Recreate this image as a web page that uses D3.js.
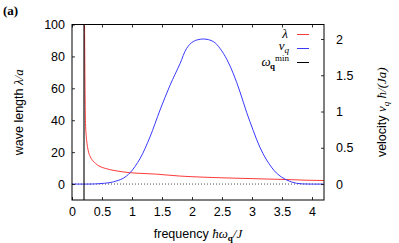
<!DOCTYPE html>
<html>
<head>
  <meta charset="utf-8">
  <title>wave length and velocity vs frequency</title>
  <style>
    body { margin: 0; background: #fff; }
    .sans { font-family: "Liberation Sans", Arial, sans-serif; font-size: 12.5px; }
    .math { font-family: "Liberation Serif", "Times New Roman", serif; font-style: italic; }
  </style>
</head>
<body>
  <script src="https://cdn.jsdelivr.net/npm/d3@7"></script>
  <script>
    // data
    var omegaMin = 0.2;

    var lambdaOmega = [0.205, 0.21, 0.215, 0.22, 0.225, 0.24, 0.25, 0.27, 0.305, 0.35, 0.39, 0.45, 0.555, 0.7, 0.833, 0.967, 1.2, 1.41, 1.6, 1.8, 2.0, 2.2, 2.5, 2.8, 3.2, 3.6, 3.9, 4.2];
    var lambdaVals  = [115, 95, 70, 50, 38, 29, 25.5, 21, 17.1, 14.5, 13, 11.3, 9.8, 8.5, 7.7, 7.1, 6.6, 6.2, 5.6, 5.0, 4.6, 4.3, 3.9, 3.6, 3.2, 2.8, 2.4, 2.2];

    var vOmega = [0, 0.3, 0.45, 0.633, 0.75, 0.855, 0.967, 1.133, 1.3, 1.467, 1.633, 1.8, 1.91, 2.02, 2.19, 2.355, 2.467, 2.58, 2.69, 2.8, 2.91, 3.02, 3.13, 3.245, 3.41, 3.58, 3.745, 3.95, 4.2];
    var vVals   = [0, 0, 0.005, 0.02, 0.045, 0.08, 0.155, 0.35, 0.65, 1.02, 1.36, 1.66, 1.87, 1.965, 2.0, 1.965, 1.87, 1.72, 1.52, 1.27, 0.99, 0.74, 0.51, 0.33, 0.15, 0.055, 0.01, 0, 0];

    var xTicks = [0, 0.5, 1, 1.5, 2, 2.5, 3, 3.5, 4];
    var yTicks = [0, 20, 40, 60, 80, 100];
    var y2Ticks = [0, 0.5, 1, 1.5, 2];

    var w = 399, h = 243;
    var pLeft = 72, pRight = 324, pTop = 24.5, pBottom = 200;

    var x = d3.scaleLinear().domain([0, 4.2]).range([pLeft, pRight]);
    var y = d3.scaleLinear().domain([-10, 100]).range([pBottom, pTop]);
    var y2 = d3.scaleLinear().domain([-0.22, 2.2]).range([pBottom, pTop]);

    var fmt = function(d) { return String(d); };

    var svg = d3.select("body").append("svg")
      .attr("width", w)
      .attr("height", h);

    svg.append("clipPath").attr("id", "clip")
      .append("rect")
      .attr("x", pLeft).attr("y", pTop)
      .attr("width", pRight - pLeft).attr("height", pBottom - pTop);

    var plot = svg.append("g").attr("clip-path", "url(#clip)");

    // zero line
    plot.append("line")
      .attr("x1", pLeft).attr("x2", pRight)
      .attr("y1", y(0)).attr("y2", y(0))
      .attr("stroke", "#222")
      .attr("stroke-width", 0.8)
      .attr("stroke-dasharray", "1,2");

    // lambda curve
    var lamData = lambdaOmega.map(function(o, i) { return [o, lambdaVals[i]]; });
    plot.append("path")
      .datum(lamData)
      .attr("fill", "none")
      .attr("stroke", "#ff3a3a")
      .attr("stroke-width", 1)
      .attr("d", d3.line()
        .x(function(d) { return x(d[0]); })
        .y(function(d) { return y(d[1]); })
        .curve(d3.curveMonotoneX));

    // velocity curve
    var vData = vOmega.map(function(o, i) { return [o, vVals[i]]; });
    plot.append("path")
      .datum(vData)
      .attr("fill", "none")
      .attr("stroke", "#3a3aff")
      .attr("stroke-width", 1)
      .attr("d", d3.line()
        .x(function(d) { return x(d[0]); })
        .y(function(d) { return y2(d[1]); })
        .curve(d3.curveCatmullRom.alpha(0.5)));

    // omega min line
    plot.append("line")
      .attr("x1", x(omegaMin)).attr("x2", x(omegaMin))
      .attr("y1", pTop).attr("y2", pBottom)
      .attr("stroke", "#000")
      .attr("stroke-width", 1.1);

    // axes, ticks point inward
    function styleAxis(g) {
      g.attr("font-family", null).attr("font-size", null);
      g.select(".domain").remove();
      g.selectAll(".tick line").attr("stroke", "#000").attr("stroke-width", 0.8);
      g.selectAll("text")
        .attr("fill", "#000")
        .style("font-family", "'Liberation Sans', Arial, sans-serif")
        .style("font-size", "12.5px");
    }

    svg.append("g")
      .attr("transform", "translate(0," + pBottom + ")")
      .call(d3.axisBottom(x).tickValues(xTicks).tickFormat(fmt).tickSizeInner(-3).tickSizeOuter(0).tickPadding(7))
      .call(styleAxis);

    svg.append("g")
      .attr("transform", "translate(0," + pTop + ")")
      .call(d3.axisTop(x).tickValues(xTicks).tickSizeInner(-3).tickSizeOuter(0).tickFormat(""))
      .call(styleAxis);

    svg.append("g")
      .attr("transform", "translate(" + pLeft + ",0)")
      .call(d3.axisLeft(y).tickValues(yTicks).tickFormat(fmt).tickSizeInner(-3).tickSizeOuter(0).tickPadding(7))
      .call(styleAxis);

    svg.append("g")
      .attr("transform", "translate(" + pRight + ",0)")
      .call(d3.axisRight(y2).tickValues(y2Ticks).tickFormat(fmt).tickSizeInner(-3).tickSizeOuter(0).tickPadding(12))
      .call(styleAxis);

    // frame
    svg.append("rect")
      .attr("x", pLeft).attr("y", pTop)
      .attr("width", pRight - pLeft).attr("height", pBottom - pTop)
      .attr("fill", "none")
      .attr("stroke", "#000")
      .attr("stroke-width", 1);

    // panel label
    svg.append("text")
      .attr("x", 3).attr("y", 15)
      .style("font-family", "'Liberation Serif', serif")
      .style("font-weight", "bold")
      .style("font-size", "13px")
      .text("(a)");

    // x label
    var xl = svg.append("text")
      .attr("class", "sans")
      .attr("x", (pLeft + pRight) / 2).attr("y", 238)
      .attr("text-anchor", "middle");
    xl.append("tspan").text("frequency ");
    xl.append("tspan").attr("class", "math").style("font-size", "13px").text("ħω");
    xl.append("tspan").style("font-family", "'Liberation Serif', serif").style("font-weight", "bold")
      .style("font-size", "9px").attr("dy", 3).text("q");
    xl.append("tspan").attr("class", "math").style("font-size", "13px").attr("dy", -3).text("/J");

    // left y label
    var yl = svg.append("text")
      .attr("class", "sans")
      .attr("transform", "translate(23," + ((pTop + pBottom) / 2) + ") rotate(-90)")
      .attr("text-anchor", "middle");
    yl.append("tspan").text("wave length ");
    yl.append("tspan").attr("class", "math").style("font-size", "13px").text("λ/a");

    // right y label
    var yr = svg.append("text")
      .attr("class", "sans")
      .attr("transform", "translate(386," + ((pTop + pBottom) / 2) + ") rotate(-90)")
      .attr("text-anchor", "middle");
    yr.append("tspan").text("velocity ");
    yr.append("tspan").attr("class", "math").style("font-size", "13px").text("v");
    yr.append("tspan").attr("class", "math").style("font-size", "9px").attr("dy", 3).text("q");
    yr.append("tspan").attr("class", "math").style("font-size", "13px").attr("dy", -3).text(" ħ/(Ja)");

    // legend
    var legColors = ["#ff3a3a", "#3a3aff", "#000"];
    var legY = [34.5, 48.5, 62.5];
    var legend = svg.append("g");
    legColors.forEach(function(c, i) {
      legend.append("line")
        .attr("x1", 297).attr("x2", 309)
        .attr("y1", legY[i]).attr("y2", legY[i])
        .attr("stroke", c).attr("stroke-width", 1);
    });

    var l1 = legend.append("text").attr("x", 288).attr("y", legY[0] + 3.5)
      .attr("text-anchor", "end").attr("class", "math").style("font-size", "13px");
    l1.append("tspan").text("λ");

    var l2 = legend.append("text").attr("x", 289).attr("y", legY[1] + 1.5)
      .attr("text-anchor", "end").attr("class", "math").style("font-size", "13px");
    l2.append("tspan").text("v");
    l2.append("tspan").style("font-size", "9px").attr("dy", 2.5).text("q");

    var l3 = legend.append("g");
    l3.append("text").attr("x", 261.5).attr("y", legY[2] + 3)
      .attr("class", "math").style("font-size", "13px").text("ω");
    l3.append("text").attr("x", 270).attr("y", legY[2] + 6)
      .style("font-family", "'Liberation Serif', serif").style("font-weight", "bold")
      .style("font-size", "9px").text("q");
    l3.append("text").attr("x", 289).attr("y", legY[2] - 2)
      .attr("text-anchor", "end")
      .style("font-family", "'Liberation Serif', serif")
      .style("font-size", "9px").text("min");
  </script>
</body>
</html>
